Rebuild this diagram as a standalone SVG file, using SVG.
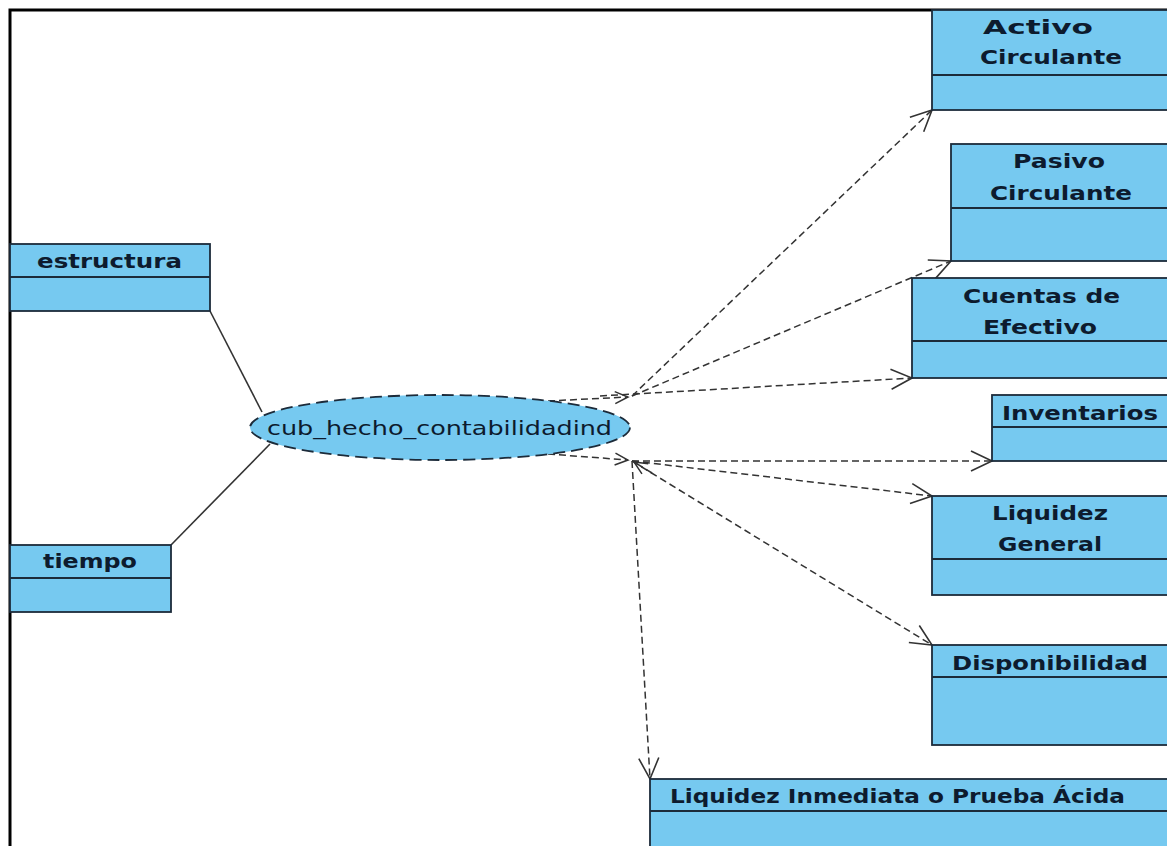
<svg xmlns="http://www.w3.org/2000/svg" width="1167" height="846" viewBox="0 0 1167 846">
<style>
.box{fill:#76c9f0;stroke:#1c2b3a;stroke-width:1.8}
.div{stroke:#1c2b3a;stroke-width:1.8}
.t{font-family:"DejaVu Sans",Verdana,sans-serif;font-weight:bold;font-size:20px;fill:#0d1b2e}
.dep{fill:none;stroke:#333;stroke-width:1.5;stroke-dasharray:7 4}
.assoc{fill:none;stroke:#333;stroke-width:1.6}
</style>
<defs>
<marker id="open" viewBox="-24 -13 26 26" markerWidth="26" markerHeight="26" refX="0" refY="0" orient="auto" markerUnits="userSpaceOnUse">
<path d="M-21,-10 L0,0 L-21,10" fill="none" stroke="#333" stroke-width="1.6"/>
</marker>
<marker id="small" viewBox="-16 -9 18 18" markerWidth="18" markerHeight="18" refX="0" refY="0" orient="auto" markerUnits="userSpaceOnUse">
<path d="M-13,-6 L0,0 L-13,6" fill="none" stroke="#333" stroke-width="1.5"/>
</marker>
</defs>
<rect width="1167" height="846" fill="#fff"/>
<path d="M10,846 V10 H1167" fill="none" stroke="#000" stroke-width="3"/>

<g id="connectors">
<line class="assoc" x1="210" y1="311" x2="262" y2="412"/>
<line class="assoc" x1="171" y1="545" x2="270" y2="444"/>
<path class="dep" d="M548,401 L628,397" marker-end="url(#small)"/>
<path class="dep" d="M548,454 L628,460" marker-end="url(#small)"/>
<path class="dep" d="M652,473 L634,462" marker-end="url(#small)"/>
<path class="dep" d="M632,396 L932,110" marker-end="url(#open)"/>
<path class="dep" d="M632,396 L951,261" marker-end="url(#open)"/>
<path class="dep" d="M600,396 L912,378" marker-end="url(#open)"/>
<path class="dep" d="M632,461 L992,461" marker-end="url(#open)"/>
<path class="dep" d="M632,461 L932,496" marker-end="url(#open)"/>
<path class="dep" d="M632,461 L932,645" marker-end="url(#open)"/>
<path class="dep" d="M632,461 L650,779" marker-end="url(#open)"/>
</g>

<g id="cub_hecho_contabilidadind">
<ellipse cx="440" cy="427.5" rx="190" ry="32.5" fill="#76c9f0" stroke="#1c2b3a" stroke-width="1.8" stroke-dasharray="12 6"/>
<text x="267" y="435" font-family="DejaVu Sans,Verdana,sans-serif" font-size="20" fill="#0d1b2e" textLength="345" lengthAdjust="spacingAndGlyphs">cub_hecho_contabilidadind</text>
</g>

<g id="estructura">
<rect class="box" x="10" y="244" width="200" height="67"/>
<line class="div" x1="10" y1="277" x2="210" y2="277"/>
<text class="t" x="37" y="268" textLength="145" lengthAdjust="spacingAndGlyphs">estructura</text>
</g>

<g id="tiempo">
<rect class="box" x="10" y="545" width="161" height="67"/>
<line class="div" x1="10" y1="578" x2="171" y2="578"/>
<text class="t" x="43" y="568" textLength="94" lengthAdjust="spacingAndGlyphs">tiempo</text>
</g>

<g id="activo_circulante">
<rect class="box" x="932" y="10" width="240" height="100"/>
<line class="div" x1="932" y1="75" x2="1172" y2="75"/>
<text class="t" x="983" y="34" textLength="110" lengthAdjust="spacingAndGlyphs">Activo</text>
<text class="t" x="980" y="64" textLength="142" lengthAdjust="spacingAndGlyphs">Circulante</text>
</g>

<g id="pasivo_circulante">
<rect class="box" x="951" y="144" width="221" height="117"/>
<line class="div" x1="951" y1="208" x2="1172" y2="208"/>
<text class="t" x="1013" y="168" textLength="92" lengthAdjust="spacingAndGlyphs">Pasivo</text>
<text class="t" x="990" y="200" textLength="142" lengthAdjust="spacingAndGlyphs">Circulante</text>
</g>

<g id="cuentas_de_efectivo">
<rect class="box" x="912" y="278" width="260" height="100"/>
<line class="div" x1="912" y1="341" x2="1172" y2="341"/>
<text class="t" x="963" y="303" textLength="157" lengthAdjust="spacingAndGlyphs">Cuentas de</text>
<text class="t" x="983" y="334" textLength="114" lengthAdjust="spacingAndGlyphs">Efectivo</text>
</g>

<g id="inventarios">
<rect class="box" x="992" y="395" width="180" height="66"/>
<line class="div" x1="992" y1="427" x2="1172" y2="427"/>
<text class="t" x="1002" y="420" textLength="156" lengthAdjust="spacingAndGlyphs">Inventarios</text>
</g>

<g id="liquidez_general">
<rect class="box" x="932" y="496" width="240" height="99"/>
<line class="div" x1="932" y1="559" x2="1172" y2="559"/>
<text class="t" x="992" y="520" textLength="116" lengthAdjust="spacingAndGlyphs">Liquidez</text>
<text class="t" x="998" y="551" textLength="104" lengthAdjust="spacingAndGlyphs">General</text>
</g>

<g id="disponibilidad">
<rect class="box" x="932" y="645" width="240" height="100"/>
<line class="div" x1="932" y1="677" x2="1172" y2="677"/>
<text class="t" x="952" y="670" textLength="196" lengthAdjust="spacingAndGlyphs">Disponibilidad</text>
</g>

<g id="liquidez_inmediata">
<rect class="box" x="650" y="779" width="522" height="72"/>
<line class="div" x1="650" y1="811" x2="1172" y2="811"/>
<text class="t" x="670" y="803" textLength="455" lengthAdjust="spacingAndGlyphs">Liquidez Inmediata o Prueba Ácida</text>
</g>
</svg>
